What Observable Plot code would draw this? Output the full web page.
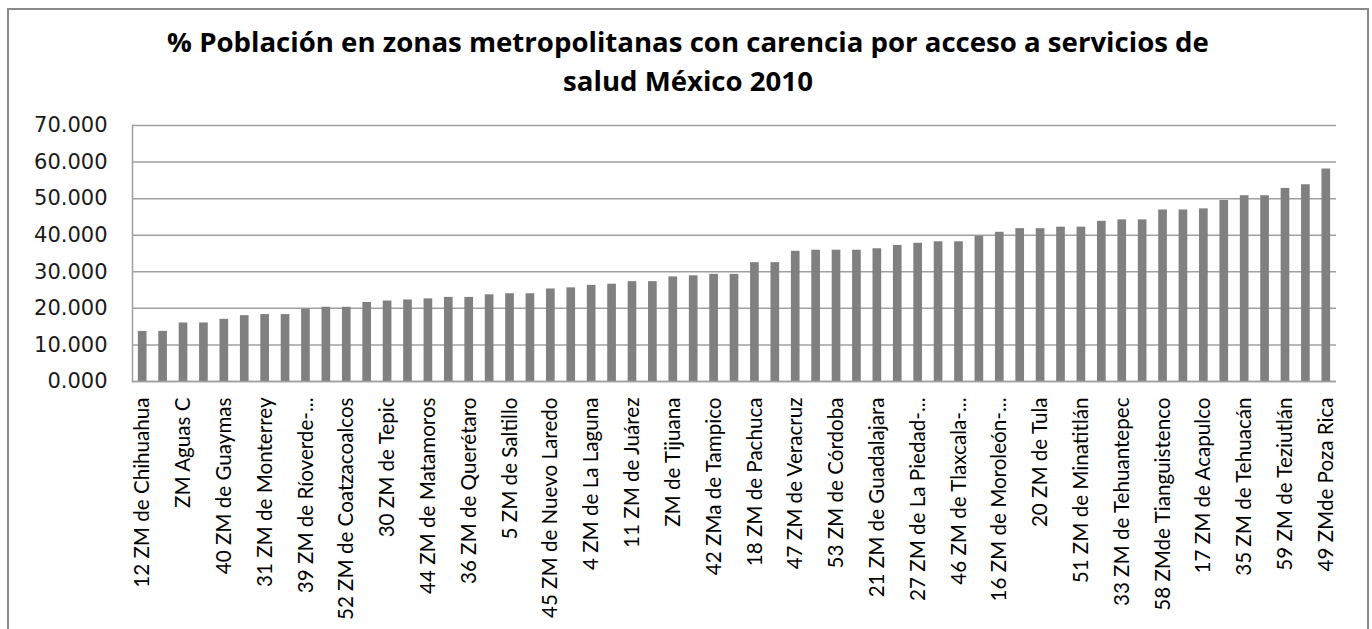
<!DOCTYPE html>
<html>
<head>
<meta charset="utf-8">
<script src="https://cdn.jsdelivr.net/npm/d3@7"></script>
<script src="https://cdn.jsdelivr.net/npm/@observablehq/plot@0.6"></script>
<style>
  html, body { margin: 0; padding: 0; background: #fff; width: 1372px; height: 629px; overflow: hidden; }
  #frame { position: absolute; left: 7px; top: 8px; width: 1362px; height: 700px; border: 2px solid #8a8a8a; box-sizing: border-box; }
  #title { position: absolute; left: 0; top: 0; width: 1376px; text-align: center;
           font-family: "Open Sans", sans-serif; font-weight: bold; font-size: 27.6px; line-height: 39px;
           color: #000; padding-top: 22px; }
  #chart { position: absolute; left: 0; top: 110px; }
</style>
</head>
<body>
<div id="frame"></div>
<div id="title">% Población en zonas metropolitanas con carencia por acceso a servicios de<br>salud México 2010</div>
<div id="chart"></div>
<script>
// Category labels shown on the axis (every other bar is labelled)
const labels = [
  "12 ZM de Chihuahua", "ZM Aguas C", "40 ZM de Guaymas", "31 ZM de Monterrey",
  "39 ZM de Ríoverde-...", "52 ZM de Coatzacoalcos", "30 ZM de Tepic", "44 ZM de Matamoros",
  "36 ZM de Querétaro", "5 ZM de Saltillo", "45 ZM de Nuevo Laredo", "4 ZM de La Laguna",
  "11 ZM de Juárez", "ZM de Tijuana", "42 ZMa de Tampico", "18 ZM de Pachuca",
  "47 ZM de Veracruz", "53 ZM de Córdoba", "21 ZM de Guadalajara", "27 ZM de La Piedad-...",
  "46 ZM de Tlaxcala-...", "16 ZM de Moroleón-...", "20 ZM de Tula", "51 ZM de Minatitlán",
  "33 ZM de Tehuantepec", "58 ZMde Tianguistenco", "17 ZM de Acapulco", "35 ZM de Tehuacán",
  "59 ZM de Teziutlán", "49 ZMde Poza Rica"
];
// Percentage values, one per bar (59 bars)
const values = [
  13.7, 13.7, 16.0, 16.0, 17.0, 18.0, 18.3, 18.3, 19.8, 20.3,
  20.3, 21.6, 22.0, 22.3, 22.6, 23.0, 23.0, 23.7, 24.0, 24.0,
  25.3, 25.6, 26.3, 26.6, 27.3, 27.3, 28.6, 28.9, 29.3, 29.3,
  32.5, 32.5, 35.6, 35.9, 35.9, 35.9, 36.3, 37.2, 37.8, 38.2,
  38.2, 39.7, 40.8, 41.8, 41.8, 42.2, 42.2, 43.8, 44.2, 44.2,
  46.9, 46.9, 47.2, 49.5, 50.8, 50.8, 52.8, 53.8, 58.1
];
const yTicks = [0, 10, 20, 30, 40, 50, 60, 70];

const data = values.map((v, i) => ({i, v}));
const grid = "#a0a0a0";

const chart = Plot.plot({
  width: 1372,
  height: 519,
  marginLeft: 132,
  marginRight: 36,
  marginTop: 15,
  marginBottom: 248,
  style: {background: "transparent", overflow: "visible"},
  x: {type: "band", domain: d3.range(values.length), paddingInner: 0.575, paddingOuter: 0.2875, round: false, axis: null},
  y: {domain: [0, 70], axis: null},
  marks: [
    Plot.ruleY(yTicks, {stroke: grid, strokeWidth: 1.5}),
    Plot.frame({anchor: "left", stroke: grid, strokeWidth: 1.5}),
    Plot.barY(data, {x: "i", y: "v", fill: "#808080"}),
    Plot.ruleY([0], {stroke: grid, strokeWidth: 1.5}),
    Plot.axisY({ticks: yTicks, tickSize: 0, tickPadding: 25, tickFormat: d3.format(".3f"),
      fontFamily: "DejaVu Sans", fontSize: 21, fill: "#1a1a1a", label: null}),
    Plot.axisX({ticks: d3.range(0, values.length, 2), tickSize: 0, tickPadding: 16, tickRotate: -90,
      tickFormat: i => labels[i / 2], fontFamily: "Lato", fontSize: 20.6, fill: "#000", label: null})
  ]
});
document.getElementById("chart").appendChild(chart);
</script>
</body>
</html>
